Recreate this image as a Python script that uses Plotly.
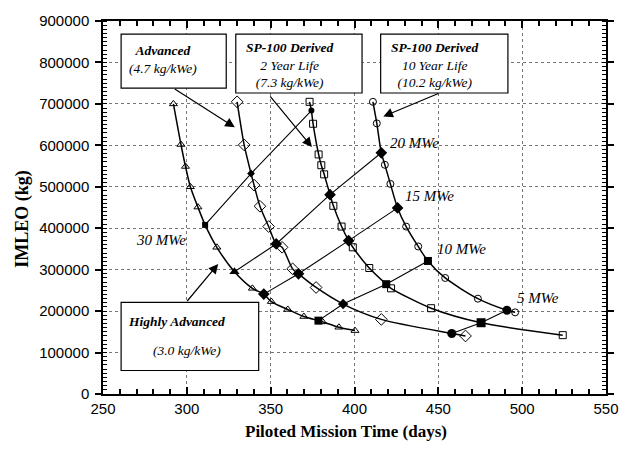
import plotly.graph_objects as go

# ---------------- data ----------------
# Open-marker points of each power-system curve
ha_days = [292.0, 296.5, 299.2, 302.1, 306.6, 317.9, 339.1, 350.4, 360.2, 369.8, 381.0, 390.7, 400.3]
ha_kg = [700000, 602000, 549000, 500000, 451000, 354000, 255000, 223000, 204000, 187000, 174000, 161000, 153000]

adv_days = [330.0, 334.2, 340.1, 343.6, 348.8, 356.8, 363.1, 377.1, 416.0, 466.2]
adv_kg = [705000, 601000, 504000, 453000, 404000, 354000, 302000, 257000, 180000, 140000]

sp2_days = [373.2, 375.3, 378.6, 380.2, 381.9, 387.4, 392.3, 399.0, 408.8, 421.8, 445.7, 524.2]
sp2_kg = [705000, 652000, 578000, 552000, 530000, 454000, 404000, 354000, 304000, 255000, 207000, 142000]

sp10_days = [411.0, 413.3, 418.1, 421.4, 430.8, 438.0, 454.1, 473.6, 495.8]
sp10_kg = [705000, 653000, 553000, 507000, 404000, 356000, 280000, 230000, 197000]

# Constant-power lines (filled markers)
mwe30_days = [310.9, 338.3, 374.3]
mwe30_kg = [408000, 532000, 684000]
mwe20_days = [328.4, 353.3, 385.4, 416.0]
mwe20_kg = [295000, 362000, 481000, 582000]
mwe15_days = [345.9, 366.6, 396.5, 425.7]
mwe15_kg = [241000, 290000, 370000, 449000]
mwe10_days = [378.5, 393.2, 418.9, 443.8]
mwe10_kg = [177000, 217000, 265000, 321000]
mwe5_days = [458.0, 475.5, 490.9]
mwe5_kg = [146000, 172000, 202000]

x_ticks = [250, 300, 350, 400, 450, 500, 550]
y_ticks = [0, 100000, 200000, 300000, 400000, 500000, 600000, 700000, 800000, 900000]

# ---------------- build ----------------
curves = {
    "ha": (ha_days, ha_kg, "triangle-up-open", 7),
    "adv": (adv_days, adv_kg, "diamond-open", 9),
    "sp2": (sp2_days, sp2_kg, "square-open", 7),
    "sp10": (sp10_days, sp10_kg, "circle-open", 7),
}
iso = [
    ("30", mwe30_days, mwe30_kg, ["ha", "adv", "sp2"], ["square", "diamond", "circle"], 6),
    ("20", mwe20_days, mwe20_kg, ["ha", "adv", "sp2", "sp10"], ["triangle-up", "diamond", "diamond", "diamond"], 9),
    ("15", mwe15_days, mwe15_kg, ["ha", "adv", "sp2", "sp10"], ["diamond"] * 4, 9),
    ("10", mwe10_days, mwe10_kg, ["ha", "adv", "sp2", "sp10"], ["square", "diamond", "square", "square"], 8),
    ("5", mwe5_days, mwe5_kg, ["adv", "sp2", "sp10"], ["circle", "square", "circle"], 9),
]

fig = go.Figure()

# curve lines pass through open and filled points
for key, (dx, dy, sym, sz) in curves.items():
    pts = list(zip(dx, dy))
    for _, idays, ikg, owners, _, _ in iso:
        for d, k, o in zip(idays, ikg, owners):
            if o == key:
                pts.append((d, k))
    pts.sort(key=lambda p: -p[1])
    fig.add_trace(go.Scatter(x=[p[0] for p in pts], y=[p[1] for p in pts], mode="lines",
                             line=dict(color="black", width=1.5, shape="spline", smoothing=0.8),
                             hoverinfo="skip", showlegend=False))

for _, idays, ikg, owners, syms, sz in iso:
    fig.add_trace(go.Scatter(x=idays, y=ikg, mode="lines+markers",
                             line=dict(color="black", width=1.1),
                             marker=dict(symbol=syms, size=sz, color="black"),
                             showlegend=False))

for key, (dx, dy, sym, sz) in curves.items():
    fig.add_trace(go.Scatter(x=dx, y=dy, mode="markers",
                             marker=dict(symbol=sym, size=sz, color="black",
                                         line=dict(color="black", width=1)),
                             showlegend=False))

serif = "Liberation Serif, Times New Roman, serif"
sans = "Liberation Sans, Arial, sans-serif"

# boxes (paper coords)
boxes = [(0.036, 0.820, 0.245, 0.965), (0.264, 0.807, 0.515, 0.965),
         (0.552, 0.807, 0.805, 0.965), (0.036, 0.063, 0.3095, 0.2454)]
for x0, y0, x1, y1 in boxes:
    fig.add_shape(type="rect", xref="paper", yref="paper", x0=x0, y0=y0, x1=x1, y1=y1,
                  line=dict(color="black", width=1.2), fillcolor="white", layer="above")

def txt(x, y, t, size=13.5):
    fig.add_annotation(xref="paper", yref="paper", x=x, y=y, text=t, showarrow=False,
                       font=dict(family=serif, size=size, color="black"),
                       xanchor="center", yanchor="middle", align="center")

txt(0.120, 0.898, "<b><i>Advanced</i></b><br><i>(4.7 kg/kWe)</i>")
txt(0.372, 0.881, "<b><i>SP-100 Derived</i></b><br><i>2 Year Life</i><br><i>(7.3 kg/kWe)</i>")
txt(0.661, 0.881, "<b><i>SP-100 Derived</i></b><br><i>10 Year Life</i><br><i>(10.2 kg/kWe)</i>")
txt(0.147, 0.195, "<b><i>Highly Advanced</i></b>")
txt(0.167, 0.116, "<i>(3.0 kg/kWe)</i>")

for x, y, t in [(0.1163, 0.4116, "30 MWe"), (0.619, 0.673, "20 MWe"), (0.650, 0.530, "15 MWe"),
                (0.713, 0.390, "10 MWe"), (0.864, 0.2586, "5 MWe")]:
    txt(x, y, "<i>" + t + "</i>", 15)

# arrows
for (tx, ty), (hx, hy) in [((291.9, 738500), (328.6, 643500)), ((349.0, 721800), (374.6, 596000)),
                           ((450.9, 726600), (417.2, 669700)), ((299.5, 220800), (318.7, 313500))]:
    fig.add_annotation(x=hx, y=hy, ax=tx, ay=ty, xref="x", yref="y", axref="x", ayref="y",
                       text="", showarrow=True, arrowhead=2, arrowsize=1.6, arrowwidth=1.2,
                       arrowcolor="black", standoff=0, startstandoff=0)

# axis titles
fig.add_annotation(xref="paper", yref="paper", x=0.483, y=-0.1, text="<b>Piloted Mission Time (days)</b>",
                   showarrow=False, font=dict(family=serif, size=17, color="black"),
                   xanchor="center", yanchor="middle")
fig.add_annotation(xref="paper", yref="paper", x=-0.159, y=0.47, text="<b>IMLEO (kg)</b>",
                   showarrow=False, textangle=-90, font=dict(family=serif, size=18, color="black"),
                   xanchor="center", yanchor="middle")

fig.update_layout(
    width=631, height=449, autosize=False, margin=dict(l=103, r=12, t=15, b=55),
    plot_bgcolor="white", paper_bgcolor="white", showlegend=False,
    font=dict(family=sans, size=14, color="black"),
)
fig.update_xaxes(range=[250, 550], tickvals=x_ticks, ticktext=[str(v) for v in x_ticks],
                 showgrid=True, gridcolor="#777", griddash="dot", gridwidth=1, zeroline=False,
                 showline=True, linecolor="black", linewidth=1.5, mirror="ticks",
                 ticks="inside", ticklen=7, tickcolor="black", tickwidth=1.5,
                 minor=dict(dtick=10, ticks="inside", ticklen=5, tickcolor="black", tickwidth=1.5, showgrid=False),
                 tickfont=dict(family=sans, size=15))
fig.update_yaxes(range=[0, 900000], tickvals=y_ticks, ticktext=[str(v) for v in y_ticks],
                 showgrid=True, gridcolor="#777", griddash="dot", gridwidth=1, zeroline=False,
                 showline=True, linecolor="black", linewidth=1.5, mirror="ticks",
                 ticks="outside", ticklen=6, tickcolor="black", tickwidth=1.5, ticklabelstandoff=3,
                 minor=dict(dtick=10000, ticks="inside", ticklen=4, tickcolor="black", tickwidth=1.2, showgrid=False),
                 tickfont=dict(family=sans, size=15))

fig.write_html("out.html", config={"displayModeBar": False},
               post_script="document.body.style.margin='0';document.body.style.overflow='hidden';")
